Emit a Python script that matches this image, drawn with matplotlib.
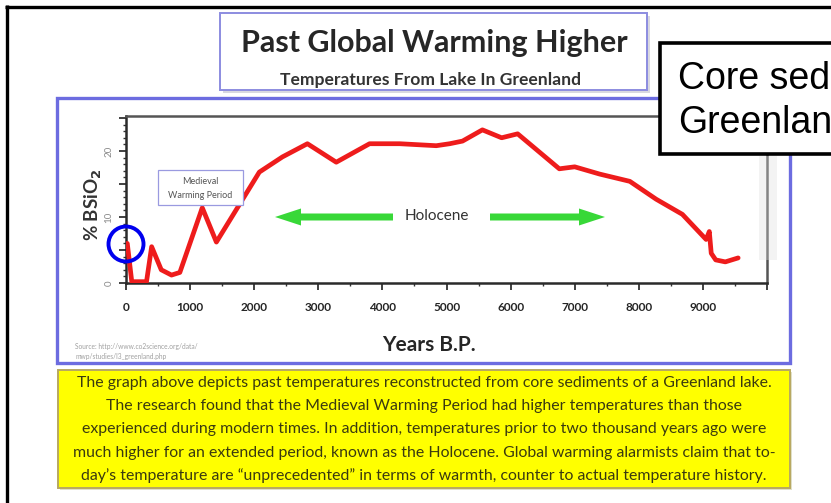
import matplotlib
matplotlib.use('Agg')
import matplotlib.pyplot as plt
from matplotlib.patches import Rectangle, Circle, FancyArrow
from matplotlib.ticker import FixedLocator, MultipleLocator, FuncFormatter

# ---------------- data ----------------
years = [20, 90, 320, 400, 550, 710, 840, 1190, 1410, 2080, 2440, 2830, 3280,
         3800, 4270, 4840, 5050, 5250, 5560, 5860, 6110, 6760, 7000, 7390,
         7860, 8270, 8680, 9050, 9100, 9130, 9200, 9350, 9550]
bsio2 = [6.0, 0.2, 0.2, 5.5, 2.0, 1.2, 1.6, 11.4, 6.2, 16.8, 19.1, 21.1, 18.3,
         21.1, 21.1, 20.8, 21.1, 21.5, 23.2, 22.0, 22.6, 17.3, 17.6, 16.5,
         15.4, 12.7, 10.4, 6.6, 7.8, 4.5, 3.5, 3.2, 3.8]
xtick_values = [0, 1000, 2000, 3000, 4000, 5000, 6000, 7000, 8000, 9000]
xtick_labels = ['0', '1000', '2000', '3000', '4000', '5000', '6000', '7000', '8000', '9000']
ytick_labeled = [0, 10, 20]

title = "Past Global Warming Higher"
subtitle = "Temperatures From Lake In Greenland"
body_lines = [
    "The graph above depicts past temperatures reconstructed from core sediments of a Greenland lake.",
    "The research found that the Medieval Warming Period had higher temperatures than those",
    "experienced during modern times. In addition, temperatures prior to two thousand years ago were",
    "much higher for an extended period, known as the Holocene. Global warming alarmists claim that to-",
    "day\u2019s temperature are \u201cunprecedented\u201d in terms of warmth, counter to actual temperature history.",
]

W, H = 831, 503
CAL = ['Lato', 'DejaVu Sans']
ARIAL = ['Liberation Sans', 'DejaVu Sans']

fig = plt.figure(figsize=(W / 100, H / 100), dpi=100)
fig.patch.set_facecolor('white')

# background layer in pixel coordinates
bg = fig.add_axes([0, 0, 1, 1], zorder=0)
bg.set_xlim(0, W); bg.set_ylim(H, 0); bg.axis('off')

# outer black frame (left and top edges)
bg.plot([6.5, 6.5], [5, H], color='black', lw=2.4, solid_capstyle='butt')
bg.plot([5, W], [6.5, 6.5], color='black', lw=2.4, solid_capstyle='butt')

# title box
bg.add_patch(Rectangle((223, 16), 427, 77, fc='#d8d8e0', ec='none'))
bg.add_patch(Rectangle((220, 13), 427, 77, fc='white', ec='#8c8ce0', lw=1.4))
bg.text(434, 43, title, ha='center', va='center', fontsize=22,
        fontweight='bold', family=CAL, color='#262626')
bg.text(431, 80, subtitle, ha='center', va='center', fontsize=12.6,
        fontweight='bold', family=CAL, color='#333333')

# chart panel
bg.add_patch(Rectangle((57, 98), 733, 265, fc='white', ec='#6c6ce0', lw=2.4))

# source text and axis titles
bg.text(75, 347, "Source: http://www.co2science.org/data/", fontsize=4.8,
        family=CAL, color='#a0a0a0', va='center')
bg.text(75, 356, "mwp/studies/l3_greenland.php", fontsize=4.8,
        family=CAL, color='#a0a0a0', va='center')
bg.text(429, 345, "Years B.P.", ha='center', va='center', fontsize=15,
        fontweight='bold', family=CAL, color='#262626')
bg.text(93, 205, r"% BSiO$_\mathbf{2}$", ha='center', va='center', fontsize=13.5,
        fontweight='bold', family=CAL, color='#333333', rotation=90)

# yellow text box
bg.add_patch(Rectangle((60, 372), 732, 118, fc='#e0e0c8', ec='none'))
bg.add_patch(Rectangle((58, 370), 732, 118, fc='#ffff00', ec='#b8a860', lw=1.4))
for i, line in enumerate(body_lines):
    bg.text(424, 383 + i * 23.2, line, ha='center', va='center', fontsize=11.4,
            family=CAL, color='#3a3a10')

# ---------------- chart ----------------
ax = fig.add_axes([126 / W, 1 - 283 / H, 641 / W, 167 / H], zorder=1)
ax.set_facecolor('white')
ax.plot(years, bsio2, color='#ee1c1c', lw=3.4, solid_joinstyle='round',
        solid_capstyle='round', zorder=3)
ax.set_xlim(0, 10000)
ax.set_ylim(0, 25.3)

ax.xaxis.set_major_locator(FixedLocator(xtick_values + [10000]))
ax.xaxis.set_minor_locator(MultipleLocator(500))
ax.set_xticklabels(xtick_labels + [''])
ax.yaxis.set_major_locator(MultipleLocator(5))
ax.yaxis.set_minor_locator(MultipleLocator(1))
ax.yaxis.set_major_formatter(FuncFormatter(
    lambda v, p: f"{int(round(v))}" if int(round(v)) in ytick_labeled else ""))

ax.tick_params(axis='both', which='major', direction='out', length=5,
               width=1.3, color='#333333')
ax.tick_params(axis='both', which='minor', direction='out', length=2.5,
               width=1.0, color='#333333')
ax.tick_params(axis='x', labelsize=8.5, pad=9, labelcolor='#262626')
ax.tick_params(axis='y', labelsize=7, pad=4, labelcolor='#8a8a8a')
for lab in ax.get_xticklabels():
    lab.set_fontweight('bold'); lab.set_family(CAL)
for lab in ax.get_yticklabels():
    lab.set_rotation(90); lab.set_va('center'); lab.set_family(CAL)
for s in ['left', 'bottom']:
    ax.spines[s].set_color('#2a2a2a'); ax.spines[s].set_linewidth(1.8)
for s in ['top', 'right']:
    ax.spines[s].set_color('#555555'); ax.spines[s].set_linewidth(1.8)

# ---------------- overlay annotations (pixel coordinates) ----------------
ov = fig.add_axes([0, 0, 1, 1], zorder=2)
ov.set_xlim(0, W); ov.set_ylim(H, 0); ov.axis('off')
ov.patch.set_alpha(0)

# faint right-side label strip
ov.add_patch(Rectangle((759, 156), 18, 104, fc='#dddddd', ec='none', alpha=0.35))

# Medieval Warming Period box
ov.add_patch(Rectangle((158, 170), 85, 35, fc='white', ec='#9a9ae0', lw=0.9))
ov.text(200.5, 182, "Medieval", ha='center', va='center', fontsize=6.5,
        family=CAL, color='#555555')
ov.text(200.5, 195, "Warming Period", ha='center', va='center', fontsize=6.5,
        family=CAL, color='#555555')

# Holocene arrows
green = '#38d838'
ov.add_patch(FancyArrow(393, 217, -118, 0, width=7, head_width=17, head_length=26,
                        length_includes_head=True, color=green, lw=0))
ov.add_patch(FancyArrow(490, 217, 115, 0, width=7, head_width=17, head_length=26,
                        length_includes_head=True, color=green, lw=0))
ov.text(437, 216, "Holocene", ha='center', va='center', fontsize=11,
        family=CAL, color='#333333')

# blue circle
ov.add_patch(Circle((126, 244), 17.5, fill=False, ec='#0000ee', lw=2.8))

# Core box overlapping the chart
ov.add_patch(Rectangle((660, 43), 220, 111, fc='white', ec='black', lw=2.6))
ov.text(678, 89, "Core sed", ha='left', va='baseline', fontsize=27,
        family=ARIAL, color='black')
ov.text(678, 133, "Greenlan", ha='left', va='baseline', fontsize=27,
        family=ARIAL, color='black')

fig.savefig('out.png', dpi=100, facecolor='white')
